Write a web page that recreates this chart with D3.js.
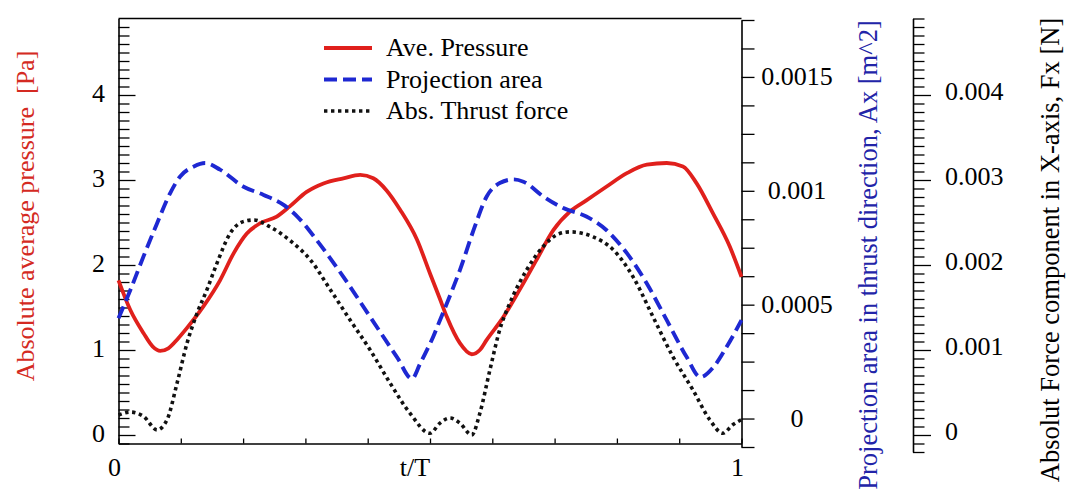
<!DOCTYPE html>
<html>
<head>
<meta charset="utf-8">
<script src="https://cdn.jsdelivr.net/npm/d3@7"></script>
<style>
  html, body { margin: 0; padding: 0; background: #fff; }
  svg { display: block; font-family: "Liberation Serif", "Times New Roman", serif; }
  .title { white-space: pre; }
</style>
</head>
<body>
<svg id="chart" width="1069" height="497"></svg>
<script>
// Phase samples (t/T) and the three measured quantities over one period
const tPressure = [0, 0.019, 0.04, 0.055, 0.067, 0.08, 0.095, 0.11, 0.136, 0.163, 0.185, 0.206, 0.227, 0.254, 0.275, 0.302, 0.329, 0.361, 0.388, 0.409, 0.43, 0.452, 0.479, 0.5, 0.516, 0.527, 0.548, 0.567, 0.58, 0.591, 0.618, 0.644, 0.671, 0.698, 0.725, 0.751, 0.783, 0.816, 0.848, 0.88, 0.906, 0.928, 0.954, 0.981, 1.0];
const pressure = [1.82, 1.47, 1.20, 1.04, 0.99, 1.02, 1.13, 1.26, 1.51, 1.82, 2.14, 2.37, 2.49, 2.57, 2.69, 2.86, 2.96, 3.02, 3.06, 3.02, 2.88, 2.65, 2.30, 1.90, 1.60, 1.39, 1.08, 0.95, 1.00, 1.12, 1.39, 1.71, 2.06, 2.41, 2.63, 2.76, 2.92, 3.08, 3.18, 3.20, 3.16, 2.96, 2.61, 2.22, 1.86];

const tArea = [0, 0.019, 0.04, 0.062, 0.083, 0.099, 0.121, 0.139, 0.163, 0.2, 0.233, 0.265, 0.287, 0.318, 0.361, 0.404, 0.447, 0.471, 0.484, 0.495, 0.505, 0.516, 0.527, 0.548, 0.57, 0.591, 0.612, 0.634, 0.65, 0.682, 0.714, 0.751, 0.783, 0.816, 0.848, 0.88, 0.912, 0.934, 0.955, 0.976, 1.0];
const area = [0.00044, 0.000564, 0.000711, 0.000858, 0.00099, 0.001063, 0.001107, 0.001122, 0.001093, 0.001019, 0.000982, 0.000938, 0.000887, 0.000784, 0.000622, 0.000446, 0.00027, 0.000175, 0.00024, 0.0003, 0.000358, 0.000432, 0.000505, 0.000652, 0.000828, 0.000975, 0.001034, 0.00105, 0.00104, 0.000975, 0.000924, 0.000887, 0.000828, 0.000726, 0.000593, 0.000432, 0.00027, 0.000182, 0.000226, 0.000314, 0.000432];

const tForce = [0, 0.019, 0.04, 0.062, 0.078, 0.094, 0.11, 0.126, 0.142, 0.158, 0.179, 0.2, 0.217, 0.243, 0.275, 0.308, 0.34, 0.372, 0.404, 0.436, 0.468, 0.5, 0.516, 0.532, 0.548, 0.567, 0.58, 0.596, 0.612, 0.628, 0.655, 0.682, 0.708, 0.725, 0.762, 0.794, 0.826, 0.858, 0.89, 0.922, 0.949, 0.97, 0.986, 1.0];
const force = [0.000235, 0.00027, 0.00022, 0.00006, 0.00018, 0.00061, 0.00108, 0.00143, 0.00171, 0.00202, 0.00237, 0.00251, 0.00253, 0.00245, 0.00229, 0.00206, 0.00171, 0.00135, 0.001, 0.00061, 0.000255, 0.00002, 0.00014, 0.0002, 0.00014, 0.0, 0.000255, 0.00076, 0.00124, 0.00155, 0.00194, 0.00222, 0.00237, 0.00239, 0.00233, 0.00218, 0.00186, 0.00139, 0.00092, 0.00053, 0.00018, 0.00002, 0.00012, 0.00018];

// Axis tick values
const xTickLabels = [0, 1];
const pressureTickLabels = [0, 1, 2, 3, 4];
const areaTickLabels = [0, 0.0005, 0.001, 0.0015];
const forceTickLabels = [0, 0.001, 0.002, 0.003, 0.004];

const seriesNames = ["Ave. Pressure", "Projection area", "Abs. Thrust force"];

const RED = "#e0201c", BLUE = "#1e28d2", BLACK = "#111";
const FS = 26;

const svg = d3.select("#chart");

const x = d3.scaleLinear().domain([0, 1]).range([118.5, 741.5]);
const yP = d3.scaleLinear().domain([-0.1, 4.9]).range([443.5, 18.5]);
const yA = d3.scaleLinear().domain([-0.000125, 0.00175]).range([447, 20]);
const yF = d3.scaleLinear().domain([-0.0002, 0.0049]).range([452, 18.5]);

const range = (a, b, step) => d3.range(Math.round((b - a) / step) + 1).map(i => +(a + i * step).toFixed(7));

// Frame: top line
svg.append("line").attr("x1", x(0)).attr("x2", x(1)).attr("y1", 18.5).attr("y2", 18.5)
  .attr("stroke", "#000").attr("stroke-width", 1.6);

// Bottom axis: ticks every 0.1 pointing inward
const gx = svg.append("g").attr("transform", "translate(0,443.5)")
  .call(d3.axisBottom(x).tickValues(range(0, 1, 0.1)).tickSizeInner(-5).tickSizeOuter(0).tickFormat(""));
gx.selectAll("text").remove();
svg.append("g").selectAll("text").data(xTickLabels).join("text")
  .attr("x", d => x(d) - 4).attr("y", 476).attr("text-anchor", "middle")
  .attr("font-size", FS).text(d => d);
svg.append("text").attr("x", 415).attr("y", 476).attr("text-anchor", "middle")
  .attr("font-size", FS).text("t/T");

// Left axis (pressure): minor every 0.1, inward ticks
const gl = svg.append("g").attr("transform", `translate(${x(0)},0)`)
  .call(d3.axisRight(yP).tickValues(range(-0.1, 4.8, 0.1)).tickSize(11).tickSizeOuter(0).tickFormat(""));
gl.selectAll(".tick line").filter(d => Math.abs(d - Math.round(d)) < 1e-6).attr("x2", 17);
svg.append("g").selectAll("text").data(pressureTickLabels).join("text")
  .attr("x", 105).attr("y", d => yP(d) - 2).attr("dy", "0.35em").attr("text-anchor", "end")
  .attr("font-size", FS).text(d => d);

// Second axis (projection area) on the right edge of the frame
svg.append("g").attr("transform", `translate(${x(1)},0)`)
  .call(d3.axisRight(yA).tickValues(range(-0.000125, 0.00175, 0.000125)).tickSize(13).tickSizeOuter(0).tickFormat(""));
svg.append("g").selectAll("text").data(areaTickLabels).join("text")
  .attr("x", 797).attr("y", d => yA(d) - 1).attr("dy", "0.35em").attr("text-anchor", "middle")
  .attr("font-size", FS).text(d => d);

// Third axis (thrust force), detached on the far right
const gf = svg.append("g").attr("transform", "translate(913,0)")
  .call(d3.axisRight(yF).tickValues(range(-0.0002, 0.0049, 0.0001)).tickSize(11.5).tickSizeOuter(0).tickFormat(""));
gf.selectAll(".tick line").filter(d => Math.abs(d * 1000 - Math.round(d * 1000)) < 1e-6).attr("x2", 18);
svg.append("g").selectAll("text").data(forceTickLabels).join("text")
  .attr("x", 945).attr("y", d => yF(d) - 4).attr("dy", "0.35em").attr("text-anchor", "start")
  .attr("font-size", FS).text(d => d);

svg.selectAll(".domain").attr("stroke", "#000").attr("stroke-width", 1.6);
svg.selectAll(".tick line").attr("stroke", "#000").attr("stroke-width", 1.3);

// Axis titles
svg.append("text").attr("class", "title").attr("transform", "translate(34,216) rotate(-90)").attr("text-anchor", "middle")
  .attr("font-size", FS).attr("fill", "#d42a22").text("Absolute average pressure  [Pa]");
svg.append("text").attr("class", "title").attr("transform", "translate(877,255) rotate(-90)").attr("text-anchor", "middle")
  .attr("font-size", 26.5).attr("fill", "#2224a8").text("Projection area in thrust direction, Ax [m^2]");
svg.append("text").attr("class", "title").attr("transform", "translate(1059,250) rotate(-90)").attr("text-anchor", "middle")
  .attr("font-size", 26.5).attr("fill", "#000").text("Absolut Force component in X-axis, Fx [N]");

// Curves
const plot = svg.append("g");
const styles = [
  { color: RED, width: 3.8, dash: null },
  { color: BLUE, width: 3.9, dash: "13 6" },
  { color: BLACK, width: 3.6, dash: "3.4 3.6" }
];
const lineOf = (ts, vs, ys) => d3.line().curve(d3.curveMonotoneX)
  .x((d, i) => x(ts[i])).y(d => ys(d))(vs);

plot.append("path").attr("d", lineOf(tPressure, pressure, yP))
  .attr("fill", "none").attr("stroke", styles[0].color).attr("stroke-width", styles[0].width);
plot.append("path").attr("d", lineOf(tArea, area, yA))
  .attr("fill", "none").attr("stroke", styles[1].color).attr("stroke-width", styles[1].width)
  .attr("stroke-dasharray", styles[1].dash);
plot.append("path").attr("d", lineOf(tForce, force, yF))
  .attr("fill", "none").attr("stroke", styles[2].color).attr("stroke-width", styles[2].width)
  .attr("stroke-dasharray", styles[2].dash);

// Legend
const legend = svg.append("g").attr("transform", "translate(324,48)");
seriesNames.forEach((name, i) => {
  const gy = i * 31.5;
  legend.append("line").attr("x1", 0).attr("x2", 48).attr("y1", gy).attr("y2", gy)
    .attr("stroke", styles[i].color).attr("stroke-width", styles[i].width)
    .attr("stroke-dasharray", styles[i].dash);
  legend.append("text").attr("x", 62).attr("y", gy).attr("dy", "0.32em")
    .attr("font-size", FS).text(name);
});
</script>
</body>
</html>
